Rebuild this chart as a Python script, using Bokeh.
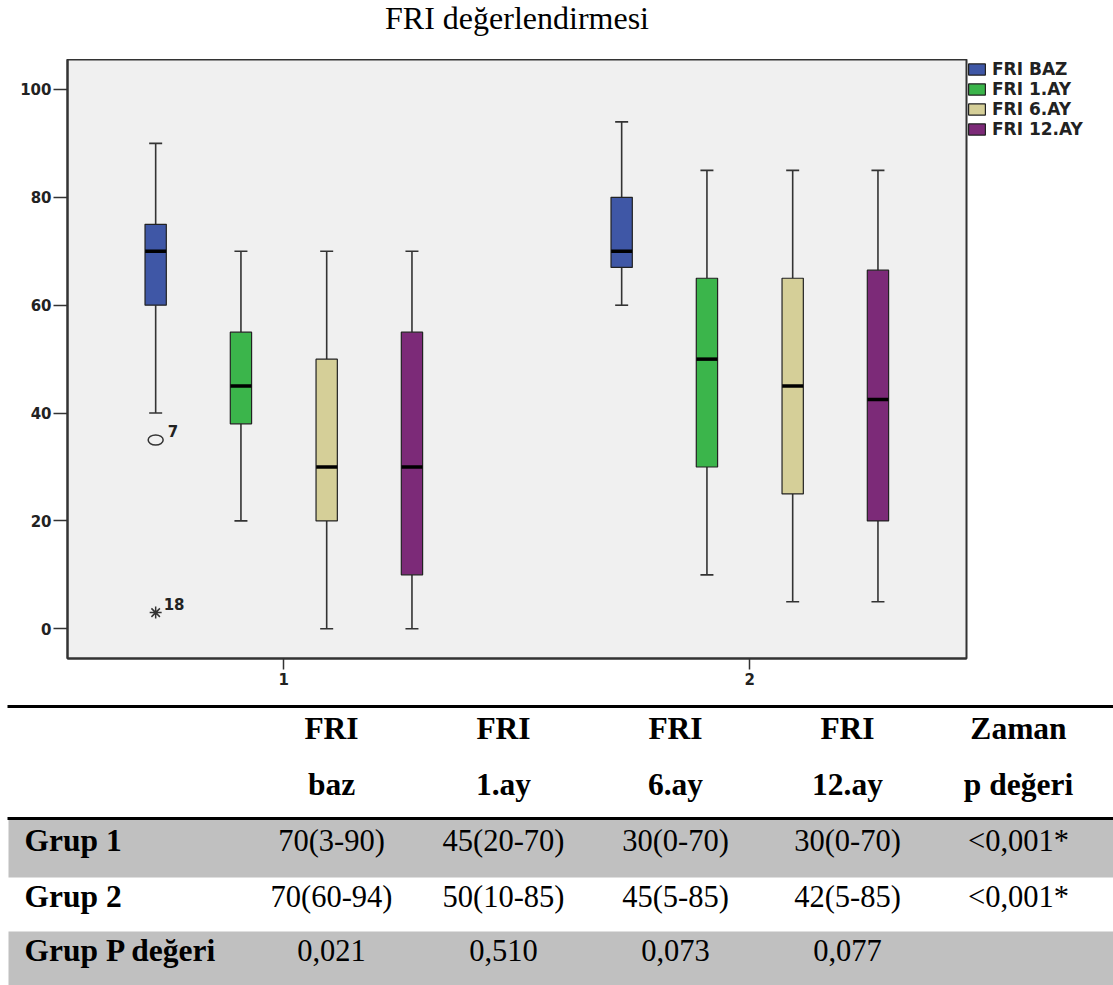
from bokeh.plotting import figure
from bokeh.models import Range1d, FixedTicker, ColumnDataSource, Legend, LegendItem, Label
from bokeh.embed import file_html
from bokeh.resources import INLINE
from bokeh.core.properties import value

# ---------------- data ----------------
chart_title = "FRI değerlendirmesi"
groups = [1, 2]
group_labels = ["1", "2"]
series = ["FRI BAZ", "FRI 1.AY", "FRI 6.AY", "FRI 12.AY"]
colors = ["#3F57A6", "#3BB54B", "#D5CF98", "#7C2A78"]

# per series: [group 1, group 2]
whisker_low = [[40, 60], [20, 10], [0, 5], [0, 5]]
q1 = [[60, 67], [38, 30], [20, 25], [10, 20]]
median = [[70, 70], [45, 50], [30, 45], [30, 42.5]]
q3 = [[75, 80], [55, 65], [50, 65], [55, 66.5]]
whisker_high = [[90, 94], [70, 85], [70, 85], [70, 85]]

# outlying cases (FRI BAZ, group 1)
outlier_group = [1, 1]
outlier_series = [0, 0]
outlier_value = [35, 3]
outlier_case = ["7", "18"]
outlier_kind = ["mild", "extreme"]

y_ticks = [0, 20, 40, 60, 80, 100]

# summary table
header_top = ["FRI", "FRI", "FRI", "FRI", "Zaman"]
header_bottom = ["baz", "1.ay", "6.ay", "12.ay", "p değeri"]
row_labels = ["Grup 1", "Grup 2", "Grup P değeri"]
row_grup1 = ["70(3-90)", "45(20-70)", "30(0-70)", "30(0-70)", "<0,001*"]
row_grup2 = ["70(60-94)", "50(10-85)", "45(5-85)", "42(5-85)", "<0,001*"]
row_grup_p = ["0,021", "0,510", "0,073", "0,077", ""]

AX_FONT = "DejaVu Sans"
SERIF = "Liberation Serif"
PAGE_W = 1113


def blank_panel(height):
    f = figure(width=PAGE_W, height=height, x_range=Range1d(0, PAGE_W), y_range=Range1d(height, 0),
               toolbar_location=None, output_backend="svg", min_border=0,
               x_axis_type=None, y_axis_type=None, outline_line_color=None,
               background_fill_color="white", border_fill_color="white")
    f.grid.visible = False
    return f


# ---------------- heading ----------------
head = blank_panel(59)
head.add_layout(Label(x=516.5, y=17, text=chart_title, text_font=SERIF, text_font_size="32px",
                      text_color="black", text_align="center", text_baseline="middle"))

# ---------------- box plot ----------------
offsets = [-0.275, -0.092, 0.092, 0.275]
box_w = 0.0457

p = figure(
    frame_width=899, frame_height=599,
    x_range=Range1d(0.5358, 2.465), y_range=Range1d(-5.51, 105.56),
    toolbar_location=None, output_backend="svg",
    min_border_left=67, min_border_right=147, min_border_top=0, min_border_bottom=42,
    background_fill_color="#F0F0F0", border_fill_color="white",
)
p.outline_line_color = "#333333"
p.outline_line_width = 2
p.grid.visible = False

legend_items = []
for i, name in enumerate(series):
    xs = [g + offsets[i] for g in groups]
    src = ColumnDataSource(dict(x=xs, lo=whisker_low[i], q1=q1[i], med=median[i],
                                q3=q3[i], hi=whisker_high[i]))
    p.segment(x0="x", y0="lo", x1="x", y1="q1", source=src, line_color="#333333", line_width=1.6)
    p.segment(x0="x", y0="q3", x1="x", y1="hi", source=src, line_color="#333333", line_width=1.6)
    p.scatter(x="x", y="hi", source=src, marker="dash", size=13, line_color="#333333", line_width=1.6)
    p.scatter(x="x", y="lo", source=src, marker="dash", size=13, line_color="#333333", line_width=1.6)
    box = p.vbar(x="x", bottom="q1", top="q3", width=box_w, source=src, fill_color=colors[i],
                 line_color="#222222", line_width=1.2)
    p.scatter(x="x", y="med", source=src, marker="dash", size=21, line_color="black", line_width=3.5)
    legend_items.append(LegendItem(label=name, renderers=[box]))

# outliers
ox = [g + offsets[s] for g, s in zip(outlier_group, outlier_series)]
mild = ColumnDataSource(dict(
    x=[x for x, k in zip(ox, outlier_kind) if k == "mild"],
    y=[v for v, k in zip(outlier_value, outlier_kind) if k == "mild"],
    t=[c for c, k in zip(outlier_case, outlier_kind) if k == "mild"]))
extreme = ColumnDataSource(dict(
    x=[x for x, k in zip(ox, outlier_kind) if k == "extreme"],
    y=[v for v, k in zip(outlier_value, outlier_kind) if k == "extreme"],
    t=[c for c, k in zip(outlier_case, outlier_kind) if k == "extreme"]))
p.ellipse(x="x", y="y", width=15, height=10, width_units="screen", height_units="screen",
          source=mild, fill_color=None, line_color="#333333", line_width=1.5)
p.scatter(x="x", y="y", source=extreme, marker="asterisk", size=12, line_color="#333333", line_width=1.5)
p.text(x="x", y="y", text="t", source=mild, x_offset=12, y_offset=-9,
       text_font=value(AX_FONT), text_font_style="bold", text_font_size="15px",
       text_color="#222222", text_baseline="alphabetic")
p.text(x="x", y="y", text="t", source=extreme, x_offset=8, y_offset=-9,
       text_font=value(AX_FONT), text_font_style="bold", text_font_size="15px",
       text_color="#222222", text_baseline="alphabetic")

# axes
p.yaxis.ticker = FixedTicker(ticks=y_ticks)
p.yaxis.major_tick_out = 14
p.yaxis.major_tick_in = 0
p.yaxis.major_label_standoff = 2
p.xaxis.ticker = FixedTicker(ticks=groups)
p.xaxis.major_label_overrides = {g: l for g, l in zip(groups, group_labels)}
p.xaxis.major_tick_out = 11
p.xaxis.major_tick_in = 0
p.xaxis.major_label_standoff = 3
for ax in (p.xaxis, p.yaxis):
    ax.minor_tick_line_color = None
    ax.axis_line_color = "#333333"
    ax.axis_line_width = 2
    ax.major_tick_line_color = "#333333"
    ax.major_tick_line_width = 1.5
    ax.major_label_text_font = AX_FONT
    ax.major_label_text_font_style = "bold"
    ax.major_label_text_font_size = "15px"
    ax.major_label_text_color = "#222222"

leg = Legend(
    items=legend_items, location="top_left", margin=0, padding=3, spacing=0,
    glyph_width=21, glyph_height=14, label_height=14, label_standoff=5,
    label_text_font=AX_FONT, label_text_font_style="bold", label_text_font_size="17px",
    label_text_color="#222222", border_line_color=None, background_fill_alpha=0,
)
p.add_layout(leg, "right")

# ---------------- summary table ----------------
col_x = [331, 503, 675, 847, 1018]

t = blank_panel(285)
# shaded rows
t.quad(left=[8, 8], right=[PAGE_W, PAGE_W], top=[118, 231], bottom=[177, 285],
       fill_color="#C0C0C0", line_color=None)
# rules
t.segment(x0=[7, 7], y0=[6, 118], x1=[PAGE_W, PAGE_W], y1=[6, 118], line_color="black", line_width=3)


def cell(x, y, text, bold, align="center"):
    t.add_layout(Label(x=x, y=y, text=text, text_font=SERIF,
                       text_font_size="31.5px" if bold else "30.5px",
                       text_font_style="bold" if bold else "normal", text_color="black",
                       text_align=align, text_baseline="middle"))


for x, top, bottom in zip(col_x, header_top, header_bottom):
    cell(x, 28, top, True)
    cell(x, 84, bottom, True)

row_mid = [140, 196, 250]
for y, label, vals in zip(row_mid, row_labels, [row_grup1, row_grup2, row_grup_p]):
    cell(24, y, label, True, align="left")
    for x, v in zip(col_x, vals):
        if v:
            cell(x, y, v, False)

# heading, chart and table as stacked roots
open("out.html", "w").write(file_html([head, p, t], INLINE))
